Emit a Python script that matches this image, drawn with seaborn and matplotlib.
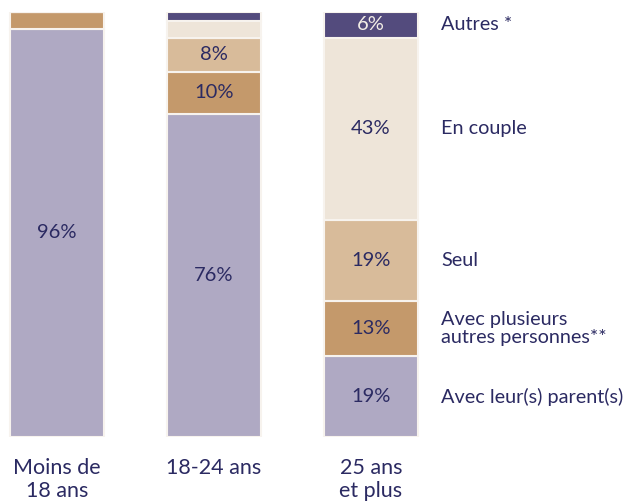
import numpy as np
import pandas as pd
import matplotlib
matplotlib.use("Agg")
import matplotlib.pyplot as plt
import seaborn as sns

# données
categories = ["Moins de\n18 ans", "18-24 ans", "25 ans\net plus"]
series = ["Avec leur(s) parent(s)", "Avec plusieurs\nautres personnes**", "Seul", "En couple", "Autres *"]
parents = [96, 76, 19]
plusieurs = [4, 10, 13]
seul = [0, 8, 19]
couple = [0, 4, 43]
autres = [0, 2, 6]

colors = ["#AFA9C3", "#C4996B", "#D8BB9A", "#EEE5D9", "#534B7D"]
navy = "#2B2A62"

sns.set_style("white")
plt.rcParams["font.family"] = ["Lato", "DejaVu Sans"]

df = pd.DataFrame({"cat": categories, "parents": parents, "plusieurs": plusieurs,
                   "seul": seul, "couple": couple, "autres": autres})
cols = ["parents", "plusieurs", "seul", "couple", "autres"]

fig = plt.figure(figsize=(6.29, 5.01), dpi=100)
ax = fig.add_axes([0, 64 / 501, 1, 425 / 501])

bottom = np.zeros(len(df))
for col, c in zip(cols, colors):
    sns.barplot(data=df, x="cat", y=col, bottom=bottom, color=c, width=0.605,
                edgecolor="#F7F3EE", linewidth=1.5, saturation=1, ax=ax)
    for i, v in enumerate(df[col]):
        if v >= 5:
            tc = "#F3EEE6" if col == "autres" else navy
            ax.text(i, bottom[i] + v / 2, f"{v}%", ha="center", va="center",
                    fontsize=14.5, color=tc)
    # légende à droite, alignée sur la dernière barre
    last = len(df) - 1
    ax.text(2.446, bottom[last] + df[col].iloc[last] / 2, series[cols.index(col)],
            ha="left", va="center", fontsize=14.3, color=navy, linespacing=1.05)
    bottom = bottom + df[col].values

ax.set_xlim((0 - 57) / 157, (629 - 57) / 157)
ax.set_ylim(0, 100)
ax.set_xlabel("")
ax.set_ylabel("")
ax.set_yticks([])
ax.tick_params(axis="x", length=0, pad=15, labelsize=15.5, labelcolor=navy)
for t in ax.get_xticklabels():
    t.set_linespacing(1.2)
sns.despine(ax=ax, left=True, bottom=True)

fig.savefig("out.png", dpi=100)
